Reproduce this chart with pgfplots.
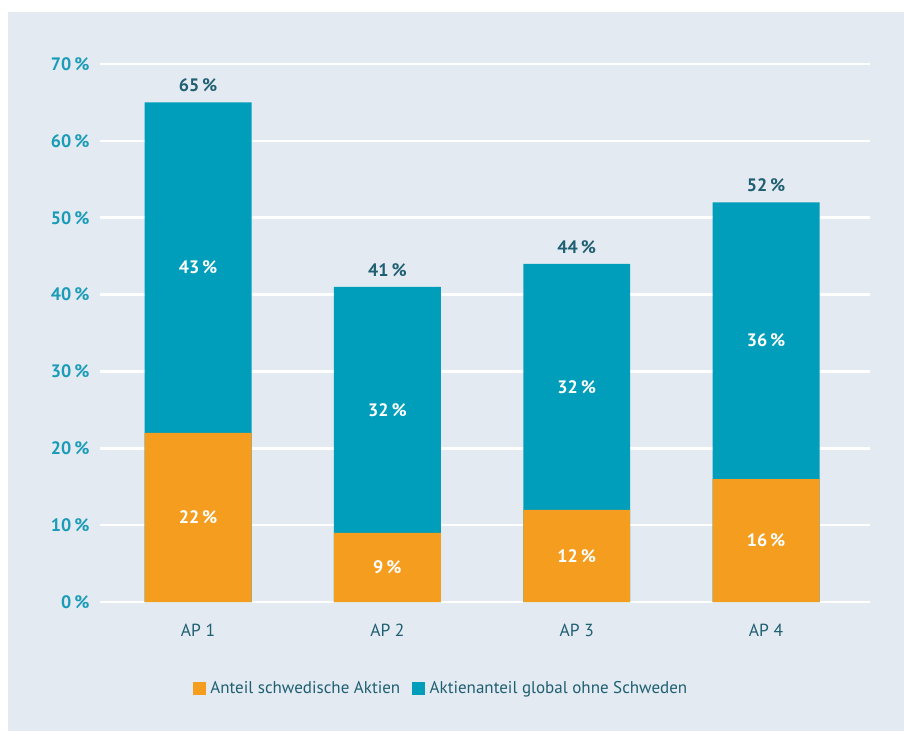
\documentclass[border=0pt]{standalone}
\usepackage{pgfplots}
\pgfplotsset{compat=1.18}
\usepackage{fontspec}
\setmainfont{PT Sans}
\definecolor{bgc}{HTML}{E3EAF1}
\definecolor{orng}{HTML}{F59D1F}
\definecolor{teal1}{HTML}{009EBA}
\definecolor{ticktl}{HTML}{1A9CB8}
\definecolor{darktl}{HTML}{1F5F72}
\begin{document}
\begin{tikzpicture}[x=1pt,y=1pt]
\fill[white] (0,0) rectangle (904,731);
\fill[bgc] (8,0) rectangle (904,719);
\useasboundingbox (0,0) rectangle (904,731);
\begin{axis}[
  at={(100pt,129pt)}, anchor=south west,
  scale only axis, width=770pt, height=538pt,
  xmin=-0.518, xmax=3.549, ymin=0, ymax=70,
  axis line style={draw=none}, tick style={draw=none},
  ymajorgrids, grid style={white, line width=2.6pt},
  ytick={0,10,...,70},
  yticklabels={0\,\%,10\,\%,20\,\%,30\,\%,40\,\%,50\,\%,60\,\%,70\,\%},
  yticklabel style={font=\fontsize{18}{21}\selectfont\bfseries, text=ticktl, xshift=-7pt},
  xtick={0,1,2,3}, xticklabels={AP 1,AP 2,AP 3,AP 4},
  xticklabel style={font=\fontsize{17.5}{20}\selectfont, text=darktl, anchor=center, yshift=-28pt},
  legend style={at={(0.443,-0.16)}, anchor=center, draw=none, fill=none,
    font=\fontsize{17}{20}\selectfont, text=darktl, legend columns=2,
    /tikz/every even column/.append style={column sep=10pt}},
  legend image code/.code={\fill[#1] (0pt,-6pt) rectangle (12pt,6pt); \path (15pt,0pt);},
]
\addlegendimage{orng}
\addlegendentry{Anteil schwedische Aktien}
\addlegendimage{teal1}
\addlegendentry{Aktienanteil global ohne Schweden}
% total (global + swedish) bars
\addplot[ybar, bar width=0.565, bar shift=0pt, fill=teal1, draw=none, forget plot]
  coordinates {(0,65) (1,41) (2,44) (3,52)};
% swedish share
\addplot[ybar, bar width=0.565, bar shift=0pt, fill=orng, draw=none, forget plot]
  coordinates {(0,22) (1,9) (2,12) (3,16)};
% labels inside segments
\addplot[only marks, mark=none, forget plot, point meta=explicit symbolic,
  nodes near coords, every node near coord/.append style={anchor=center, text=white,
  font=\fontsize{18}{21}\selectfont\bfseries}]
  coordinates {(0,11)[22\,\%] (1,4.5)[9\,\%] (2,6)[12\,\%] (3,8)[16\,\%]
    (0,43.5)[43\,\%] (1,25)[32\,\%] (2,28)[32\,\%] (3,34)[36\,\%]};
% totals
\addplot[only marks, mark=none, forget plot, point meta=explicit symbolic,
  nodes near coords, every node near coord/.append style={anchor=center, text=darktl, yshift=17pt,
  font=\fontsize{18}{21}\selectfont\bfseries}]
  coordinates {(0,65)[65\,\%] (1,41)[41\,\%] (2,44)[44\,\%] (3,52)[52\,\%]};
\end{axis}
\end{tikzpicture}
\end{document}
